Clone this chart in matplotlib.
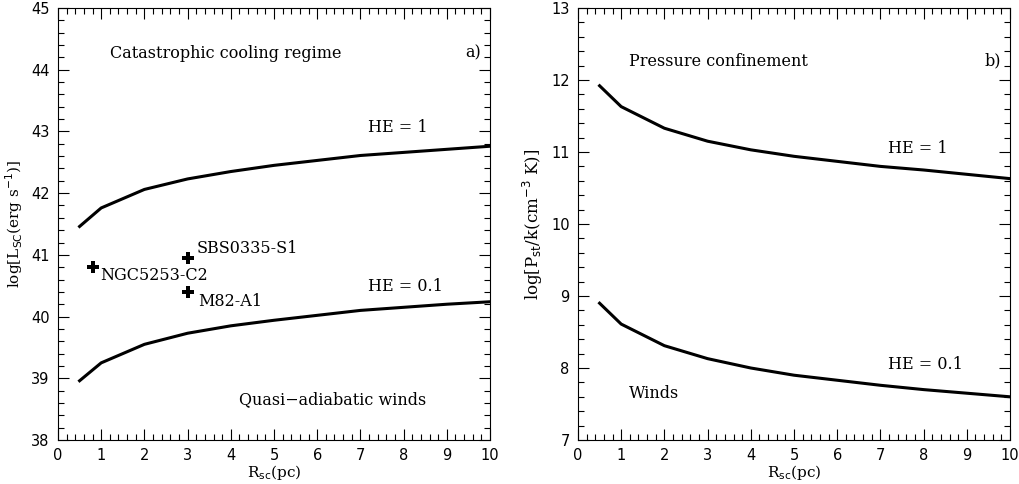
import numpy as np
import matplotlib
matplotlib.use("Agg")
import matplotlib.pyplot as plt
from matplotlib.ticker import MultipleLocator

# cluster radius (pc)
r_sc = [0.5, 1, 2, 3, 4, 5, 6, 7, 8, 9, 10]

# panel a: critical luminosity
lum_he1 = [41.46, 41.76, 42.06, 42.23, 42.35, 42.45, 42.53, 42.61, 42.66, 42.71, 42.76]
lum_he01 = [38.96, 39.25, 39.55, 39.73, 39.85, 39.94, 40.02, 40.10, 40.15, 40.20, 40.24]

# observed clusters
cl_names = ["NGC5253-C2", "SBS0335-S1", "M82-A1"]
cl_r = [0.8, 3.0, 3.0]
cl_lum = [40.8, 40.95, 40.4]

# panel b: pressure
p_he1 = [11.92, 11.63, 11.33, 11.15, 11.03, 10.94, 10.87, 10.80, 10.75, 10.69, 10.63]
p_he01 = [8.90, 8.61, 8.31, 8.13, 8.00, 7.90, 7.83, 7.76, 7.70, 7.65, 7.60]

serif = "DejaVu Serif"
fs = 11.5
plt.rcParams['font.family'] = 'DejaVu Sans'

fig = plt.figure(figsize=(10.19, 4.84), dpi=100)
ax1 = fig.add_axes([0.0569, 0.0909, 0.424, 0.8926])
ax2 = fig.add_axes([0.5672, 0.0909, 0.424, 0.8926])

def style(ax, ylo, yhi):
    ax.set_xlim(0, 10)
    ax.set_ylim(ylo, yhi)
    ax.xaxis.set_major_locator(MultipleLocator(1))
    ax.xaxis.set_minor_locator(MultipleLocator(0.2))
    ax.yaxis.set_major_locator(MultipleLocator(1))
    ax.yaxis.set_minor_locator(MultipleLocator(0.2))
    ax.tick_params(which='both', direction='in', top=True, right=True, labelsize=10.5, width=0.8)
    ax.tick_params(which='major', length=8, pad=6)
    ax.tick_params(which='minor', length=4)
    for s in ax.spines.values():
        s.set_linewidth(0.8)
    ax.set_xlabel(r"R$_{\rm sc}$(pc)", family=serif, fontsize=11, labelpad=0)

# panel a
style(ax1, 38, 45)
ax1.plot(r_sc, lum_he1, 'k-', lw=2.2)
ax1.plot(r_sc, lum_he01, 'k-', lw=2.2)
ax1.plot(cl_r, cl_lum, 'kP', ms=8, mew=0)
ax1.text(0.98, 40.66, cl_names[0], family=serif, fontsize=fs, va='center')
ax1.text(3.22, 41.1, cl_names[1], family=serif, fontsize=fs, va='center')
ax1.text(3.24, 40.25, cl_names[2], family=serif, fontsize=fs, va='center')
ax1.text(1.2, 44.27, "Catastrophic cooling regime", family=serif, fontsize=fs, va='center')
ax1.text(9.8, 44.27, "a)", family=serif, fontsize=fs, va='center', ha='right')
ax1.text(7.18, 43.07, "HE = 1", family=serif, fontsize=fs, va='center')
ax1.text(7.18, 40.48, "HE = 0.1", family=serif, fontsize=fs, va='center')
ax1.text(4.19, 38.66, "Quasi\u2212adiabatic winds", family=serif, fontsize=fs, va='center')
ax1.set_ylabel(r"log[L$_{\rm SC}$(erg s$^{-1}$)]", family=serif, fontsize=11, labelpad=4)

# panel b
style(ax2, 7, 13)
ax2.plot(r_sc, p_he1, 'k-', lw=2.2)
ax2.plot(r_sc, p_he01, 'k-', lw=2.2)
ax2.text(1.18, 12.26, "Pressure confinement", family=serif, fontsize=fs, va='center')
ax2.text(9.8, 12.26, "b)", family=serif, fontsize=fs, va='center', ha='right')
ax2.text(7.18, 11.05, "HE = 1", family=serif, fontsize=fs, va='center')
ax2.text(7.18, 8.05, "HE = 0.1", family=serif, fontsize=fs, va='center')
ax2.text(1.18, 7.64, "Winds", family=serif, fontsize=fs, va='center')
ax2.set_ylabel(r"log[P$_{\rm st}$/k(cm$^{-3}$ K)]", family=serif, fontsize=12, labelpad=4)

fig.savefig("out.png", dpi=100)
